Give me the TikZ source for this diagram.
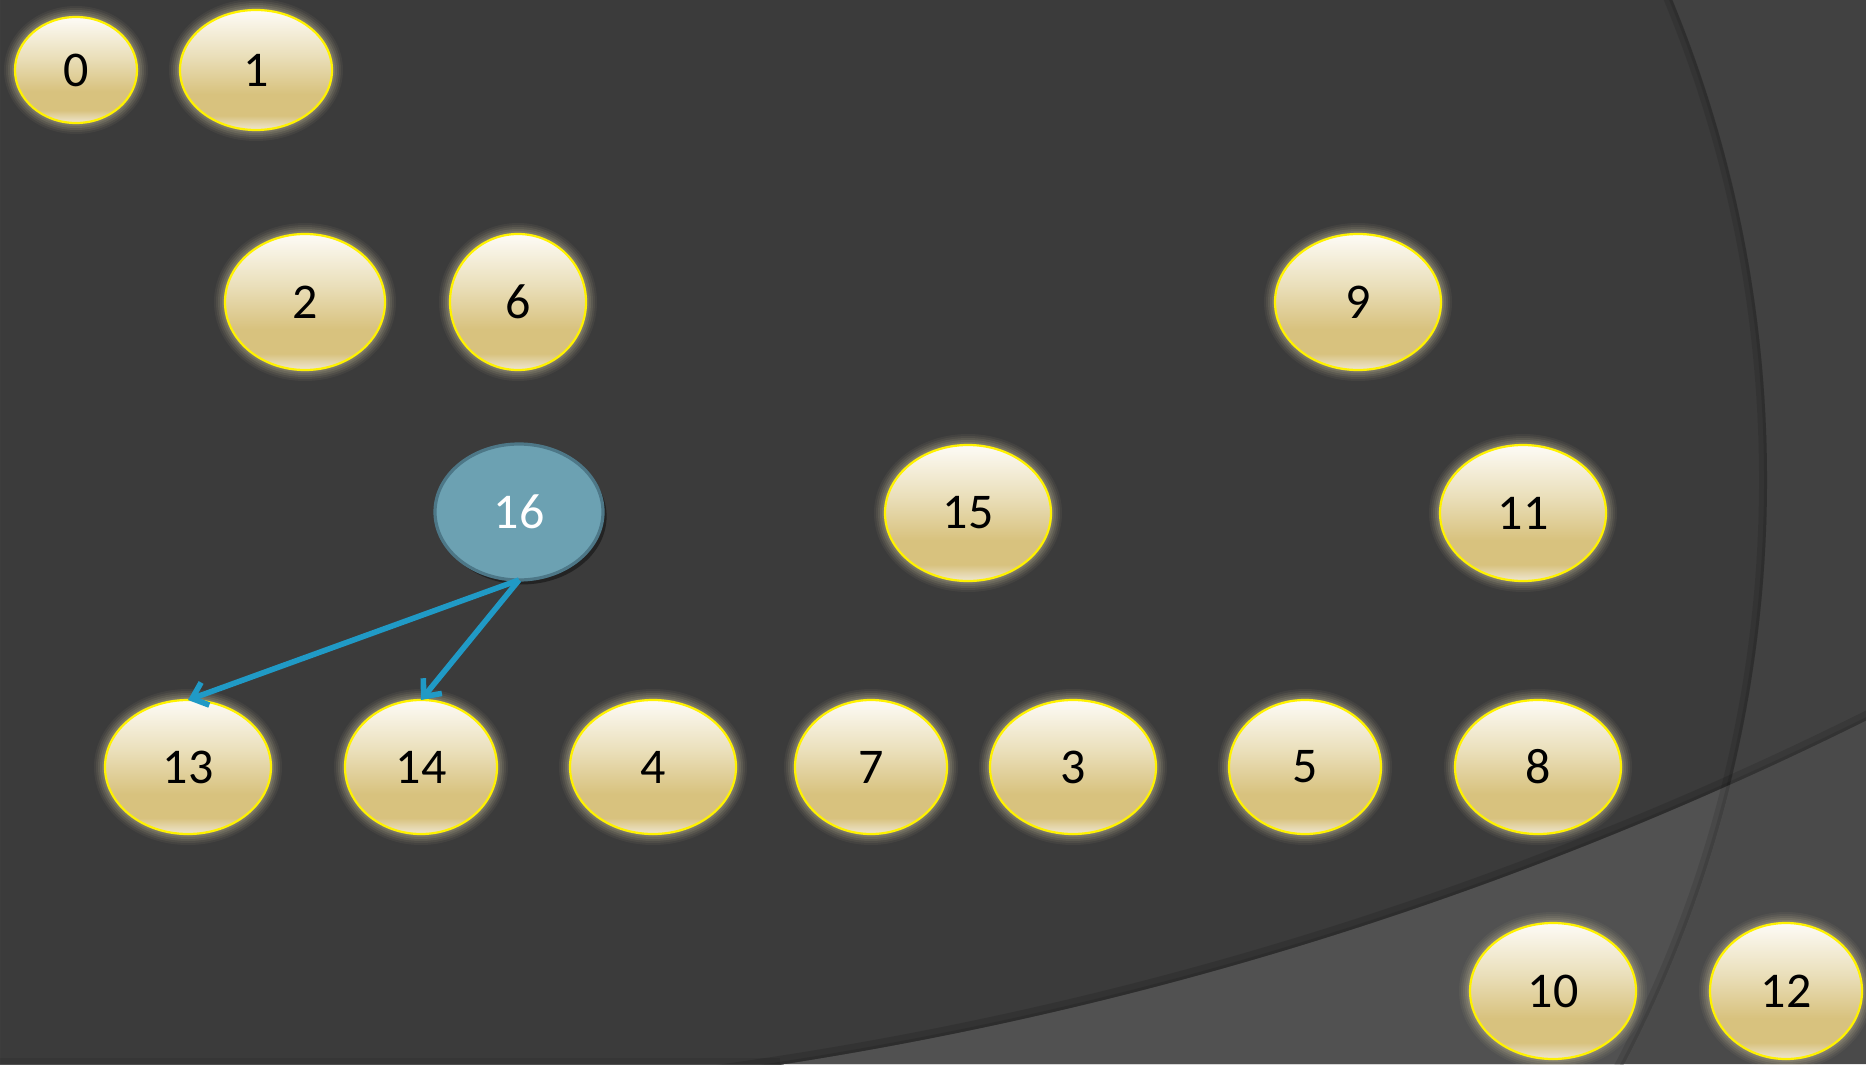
\documentclass[tikz,border=0pt]{standalone}
\usepackage{fontspec}
\setmainfont{Carlito}
\usetikzlibrary{shapes.geometric,arrows.meta,shadows}
\definecolor{bgmain}{HTML}{3B3B3B}
\definecolor{bgright}{HTML}{414141}
\definecolor{bandleft}{HTML}{515151}
\definecolor{bandright}{HTML}{4A4A4A}
\definecolor{goldA}{HTML}{FDFBF6}
\definecolor{goldB}{HTML}{EADFBA}
\definecolor{goldC}{HTML}{D8C27E}
\definecolor{goldD}{HTML}{EFE7D2}
\definecolor{halo}{HTML}{C2B995}
\definecolor{nodeblue}{HTML}{6CA1B2}
\definecolor{nodeblueedge}{HTML}{4D7787}
\definecolor{arrowblue}{HTML}{209AC6}
\pgfdeclareverticalshading{goldshade}{100bp}{color(0bp)=(goldD); color(25bp)=(goldD); color(31bp)=(goldC); color(40bp)=(goldC); color(56bp)=(goldB); color(75bp)=(goldA); color(100bp)=(goldA)}
\tikzset{
  goldnode/.style={ellipse, draw=yellow, line width=1.1pt, shade, shading=goldshade,
    inner sep=0pt, outer sep=0pt, text=black, font=\fontsize{25}{30}\selectfont},
  bluenode/.style={ellipse, fill=nodeblue, draw=nodeblueedge, line width=1.6pt,
    inner sep=0pt, outer sep=0pt, text=white, font=\fontsize{25}{30}\selectfont,
    drop shadow={shadow xshift=1.8pt, shadow yshift=-2.2pt, opacity=0.4, fill=black}},
  arr/.style={draw=arrowblue, line width=2.8pt, -{Straight Barb[length=7pt,width=12pt]}},
}
% name, x, y, rx, ry, label
\newcommand\gnode[6]{%
  \foreach \e/\o in {11/0.07, 9/0.09, 7/0.12, 5/0.15, 3/0.18, 1.5/0.2} {%
    \fill[halo, opacity=\o] (#2,#3) ellipse [x radius={(#4+\e)*0.5pt}, y radius={(#5+\e)*0.5pt}];}
  \node[goldnode, minimum width=#4pt, minimum height=#5pt] (#1) at (#2,#3) {#6};
}
\begin{document}
\begin{tikzpicture}[x=0.5pt,y=-0.5pt]
\useasboundingbox (0,0) rectangle (1866,1064);
\clip (0,0) rectangle (1866,1064);
% background
\fill[bgright] (0,0) rectangle (1866,1064);
\fill[bandright, even odd rule] (0,0) rectangle (1866,1064) (203,-2637) circle [radius=3746];
\begin{scope}
  \clip (507,480) circle [radius=1260];
  \fill[bgmain] (0,0) rectangle (1866,1064);
  \fill[bandleft, even odd rule] (0,0) rectangle (1866,1064) (203,-2637) circle [radius=3746];
  \draw[black, opacity=0.10, line width=8pt] (507,480) circle [radius=1260];
  \draw[black, opacity=0.10, line width=3pt] (507,480) circle [radius=1260];
\end{scope}
\begin{scope}
  \clip (203,-2637) circle [radius=3746];
  \draw[black, opacity=0.12, line width=9pt] (203,-2637) circle [radius=3746];
  \draw[black, opacity=0.10, line width=3pt] (203,-2637) circle [radius=3746];
\end{scope}
\fill[black, opacity=0.08] (0,1058) rectangle (780,1064);
% nodes
\gnode{n0}{76}{70}{61}{53}{0}
\gnode{n1}{256}{70}{76}{60}{1}
\gnode{n2}{305}{302}{80}{68}{2}
\gnode{n6}{518}{302}{68}{68}{6}
\gnode{n9}{1358}{302}{83}{68}{9}
\gnode{n15}{968}{513}{83}{68}{15}
\gnode{n11}{1523}{513}{83}{68}{11}
\gnode{n13}{188}{767}{83}{67}{13}
\gnode{n14}{421}{767}{76}{67}{14}
\gnode{n4}{653}{767}{83}{67}{4}
\gnode{n7}{871}{767}{76}{67}{7}
\gnode{n3}{1073}{767}{83}{67}{3}
\gnode{n5}{1305}{767}{76}{67}{5}
\gnode{n8}{1538}{767}{83}{67}{8}
\gnode{n10}{1553}{991}{83}{68}{10}
\gnode{n12}{1786}{991}{76}{68}{12}
\node[bluenode, minimum width=84pt, minimum height=68pt] (n16) at (519,512) {16};
% connectors
\draw[arr] (n16.south) -- (n13.north);
\draw[arr] (n16.south) -- (n14.north);
\end{tikzpicture}
\end{document}
